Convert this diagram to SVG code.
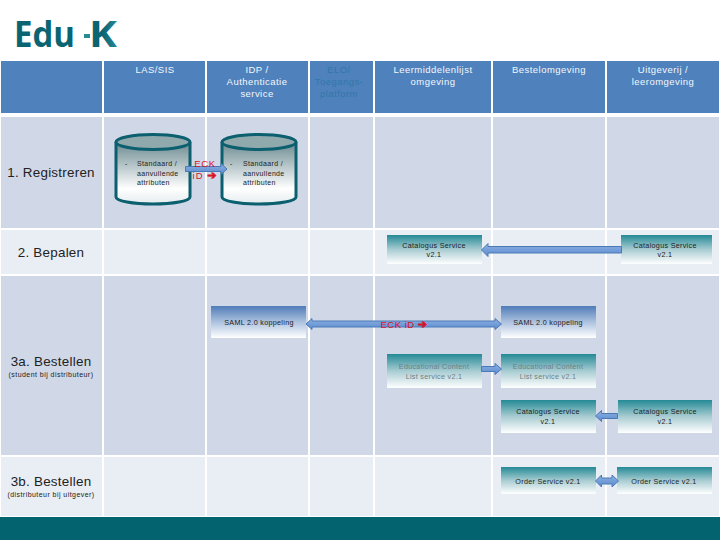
<svg xmlns="http://www.w3.org/2000/svg" width="720" height="540" viewBox="0 0 720 540">
<style>
.h{fill:#4f81bd}.d{fill:#d0d8e8}.l{fill:#e9edf4}
text{font-family:"Liberation Sans",Arial,sans-serif;text-anchor:middle}
.ht{font-size:9.5px;fill:#f4f7fb;letter-spacing:.45px}
.hd{font-size:9.5px;fill:#2f78a8;letter-spacing:.45px}
.rt{font-size:13.4px;fill:#222;letter-spacing:.25px}
.st{font-size:7px;fill:#222;letter-spacing:.35px;text-anchor:start}
.sm{font-size:7px;fill:#222;letter-spacing:.45px}
.gr{font-size:7.2px;fill:#6f8088;letter-spacing:.3px}
.bx{font-size:7.2px;fill:#222;letter-spacing:.3px}
.rd{font-size:9.5px;fill:#d81424;letter-spacing:.7px}
.ag{font-family:"DejaVu Sans",sans-serif;font-weight:700;font-size:11px;stroke:#d81424;stroke-width:.7px}
.ar{fill:url(#ga);stroke:#4a7ab5;stroke-width:1}
.cy{stroke:#0b5f6e;stroke-width:3}
</style>
<defs>
<linearGradient id="gt" x1="0" y1="0" x2="0" y2="1"><stop offset="0" stop-color="#248a96"/><stop offset=".5" stop-color="#a8ccd2"/><stop offset="1" stop-color="#fff"/></linearGradient>
<linearGradient id="gb" x1="0" y1="0" x2="0" y2="1"><stop offset="0" stop-color="#4f7cb8"/><stop offset=".5" stop-color="#adc2df"/><stop offset="1" stop-color="#fff"/></linearGradient>
<linearGradient id="gc" x1="0" y1="0" x2="0" y2="1"><stop offset="0" stop-color="#6b8a90"/><stop offset=".75" stop-color="#fff"/><stop offset="1" stop-color="#e4ecee"/></linearGradient>
<linearGradient id="ga" x1="0" y1="0" x2="0" y2="1"><stop offset="0" stop-color="#8fb2e2"/><stop offset="1" stop-color="#5a8ad0"/></linearGradient>
<linearGradient id="gk" x1="0" y1="0" x2="1" y2="0"><stop offset="0" stop-color="#0b6472"/><stop offset=".5" stop-color="#0b6472"/><stop offset="1" stop-color="#2a8a96"/></linearGradient>
</defs>
<rect width="720" height="540" fill="#fff"/>
<g id="logo">
<text x="14" y="47" style="text-anchor:start;font-family:'Open Sans',sans-serif;font-weight:700;font-size:35px;fill:#0b6472" textLength="61" lengthAdjust="spacingAndGlyphs">Edu</text>
<rect x="84" y="34" width="6" height="4" fill="#2a8a96"/>
<text x="89" y="47" style="text-anchor:start;font-family:'Open Sans',sans-serif;font-weight:700;font-size:36px;fill:url(#gk)" textLength="28" lengthAdjust="spacingAndGlyphs">K</text>
</g>
<g id="grid">
<rect class="h" x="1" y="61" width="101" height="52"/><rect class="h" x="104" y="61" width="101" height="52"/><rect class="h" x="207" y="61" width="101" height="52"/><rect class="h" x="310" y="61" width="63" height="52"/><rect class="h" x="375" y="61" width="116" height="52"/><rect class="h" x="493" y="61" width="112" height="52"/><rect class="h" x="607" y="61" width="112" height="52"/>
<rect class="d" x="1" y="117" width="101" height="111"/><rect class="d" x="104" y="117" width="101" height="111"/><rect class="d" x="207" y="117" width="101" height="111"/><rect class="d" x="310" y="117" width="63" height="111"/><rect class="d" x="375" y="117" width="116" height="111"/><rect class="d" x="493" y="117" width="112" height="111"/><rect class="d" x="607" y="117" width="112" height="111"/>
<rect class="l" x="1" y="230" width="101" height="44"/><rect class="l" x="104" y="230" width="101" height="44"/><rect class="l" x="207" y="230" width="101" height="44"/><rect class="l" x="310" y="230" width="63" height="44"/><rect class="l" x="375" y="230" width="116" height="44"/><rect class="l" x="493" y="230" width="112" height="44"/><rect class="l" x="607" y="230" width="112" height="44"/>
<rect class="d" x="1" y="276" width="101" height="179"/><rect class="d" x="104" y="276" width="101" height="179"/><rect class="d" x="207" y="276" width="101" height="179"/><rect class="d" x="310" y="276" width="63" height="179"/><rect class="d" x="375" y="276" width="116" height="179"/><rect class="d" x="493" y="276" width="112" height="179"/><rect class="d" x="607" y="276" width="112" height="179"/>
<rect class="l" x="1" y="457" width="101" height="59"/><rect class="l" x="104" y="457" width="101" height="59"/><rect class="l" x="207" y="457" width="101" height="59"/><rect class="l" x="310" y="457" width="63" height="59"/><rect class="l" x="375" y="457" width="116" height="59"/><rect class="l" x="493" y="457" width="112" height="59"/><rect class="l" x="607" y="457" width="112" height="59"/>
<rect x="0" y="517" width="720" height="23" fill="#03636f"/>
</g>
<g id="headers">
<text class="ht" x="155" y="73">LAS/SIS</text>
<text class="ht" x="257" y="73">IDP /</text><text class="ht" x="257" y="85">Authenticatie</text><text class="ht" x="257" y="97">service</text>
<text class="hd" x="339" y="73">ELO/</text><text class="hd" x="339" y="85">Toegangs-</text><text class="hd" x="339" y="97">platform</text>
<text class="ht" x="433" y="73">Leermiddelenlijst</text><text class="ht" x="433" y="85">omgeving</text>
<text class="ht" x="549" y="73">Bestelomgeving</text>
<text class="ht" x="663" y="73">Uitgeverij /</text><text class="ht" x="663" y="85">leeromgeving</text>
</g>
<g id="rows">
<text class="rt" x="51" y="177">1. Registreren</text>
<text class="rt" x="51" y="257">2. Bepalen</text>
<text class="rt" x="51" y="366">3a. Bestellen</text>
<text class="sm" x="51" y="377">(student bij distributeur)</text>
<text class="rt" x="51" y="486">3b. Bestellen</text>
<text class="sm" x="51" y="497">(distributeur bij uitgever)</text>
</g>
<g id="las-cylinder">
<path class="cy" fill="url(#gc)" d="M116 142V197C116 201 133 204 153 204S190 201 190 197V142"/>
<ellipse class="cy" cx="153" cy="142" rx="37" ry="7.5" fill="#90a9ad"/>
<text class="st" x="125" y="166">-</text>
<text class="st" x="137" y="166">Standaard /</text><text class="st" x="137" y="176">aanvullende</text><text class="st" x="137" y="185">attributen</text>
</g>
<g id="idp-cylinder">
<path class="cy" fill="url(#gc)" d="M222 142V197C222 201 239 204 259 204S296 201 296 197V142"/>
<ellipse class="cy" cx="259" cy="142" rx="37" ry="7.5" fill="#90a9ad"/>
<text class="st" x="230" y="166">-</text>
<text class="st" x="243" y="166">Standaard /</text><text class="st" x="243" y="176">aanvullende</text><text class="st" x="243" y="185">attributen</text>
</g>
<g id="box-catalogus-1"><rect x="387" y="235" width="95" height="29" fill="url(#gt)"/><text class="bx" x="434" y="248">Catalogus Service</text><text class="bx" x="434" y="257">v2.1</text></g>
<g id="box-catalogus-2"><rect x="621" y="235" width="91" height="29" fill="url(#gt)"/><text class="bx" x="665" y="248">Catalogus Service</text><text class="bx" x="665" y="257">v2.1</text></g>
<g id="box-saml-1"><rect x="211" y="306" width="95" height="32" fill="url(#gb)"/><text class="bx" x="259" y="325">SAML 2.0 koppeling</text></g>
<g id="box-saml-2"><rect x="501" y="306" width="95" height="32" fill="url(#gb)"/><text class="bx" x="548" y="325">SAML 2.0 koppeling</text></g>
<g id="box-edu-1"><rect x="387" y="354" width="95" height="34" fill="url(#gt)"/><text class="gr" x="434" y="369">Educational Content</text><text class="gr" x="434" y="379">List service v2.1</text></g>
<g id="box-edu-2"><rect x="501" y="354" width="95" height="34" fill="url(#gt)"/><text class="gr" x="548" y="369">Educational Content</text><text class="gr" x="548" y="379">List service v2.1</text></g>
<g id="box-catalogus-3"><rect x="501" y="400" width="95" height="33" fill="url(#gt)"/><text class="bx" x="548" y="414">Catalogus Service</text><text class="bx" x="548" y="424">v2.1</text></g>
<g id="box-catalogus-4"><rect x="618" y="400" width="94" height="33" fill="url(#gt)"/><text class="bx" x="665" y="414">Catalogus Service</text><text class="bx" x="665" y="424">v2.1</text></g>
<g id="box-order-1"><rect x="501" y="467" width="95" height="27" fill="url(#gt)"/><text class="bx" x="548" y="484">Order Service v2.1</text></g>
<g id="box-order-2"><rect x="617" y="467" width="95" height="27" fill="url(#gt)"/><text class="bx" x="664" y="484">Order Service v2.1</text></g>
<g id="connectors">
<polygon class="ar" points="185.5,166.5 221,166.5 221,163.5 227,169 221,174.5 221,171.5 185.5,171.5"/>
<polygon class="ar" points="481.5,250 488,243.5 488,246.5 621.5,246.5 621.5,253 488,253 488,256.5"/>
<polygon class="ar" points="306,324 312,318.5 312,321 495,321 495,318.5 501.5,324 495,329.5 495,327 312,327 312,329.5"/>
<polygon class="ar" points="481.5,366.5 495,366.5 495,363.5 501.5,369 495,374.5 495,371.5 481.5,371.5"/>
<polygon class="ar" points="595.5,416 601.5,410.5 601.5,413.5 617.5,413.5 617.5,418.5 601.5,418.5 601.5,421.5"/>
<polygon class="ar" points="595.5,481 601.5,475 601.5,478 612,478 612,475 618.5,481 612,487 612,484 601.5,484 601.5,487"/>
<text class="rd" x="205" y="167">ECK</text>
<text class="rd" x="205" y="179" style="letter-spacing:1px">iD <tspan class="ag">➔</tspan></text>
<text class="rd" x="404" y="328" style="letter-spacing:.5px">ECK iD <tspan class="ag">➔</tspan></text>
</g>
</svg>
